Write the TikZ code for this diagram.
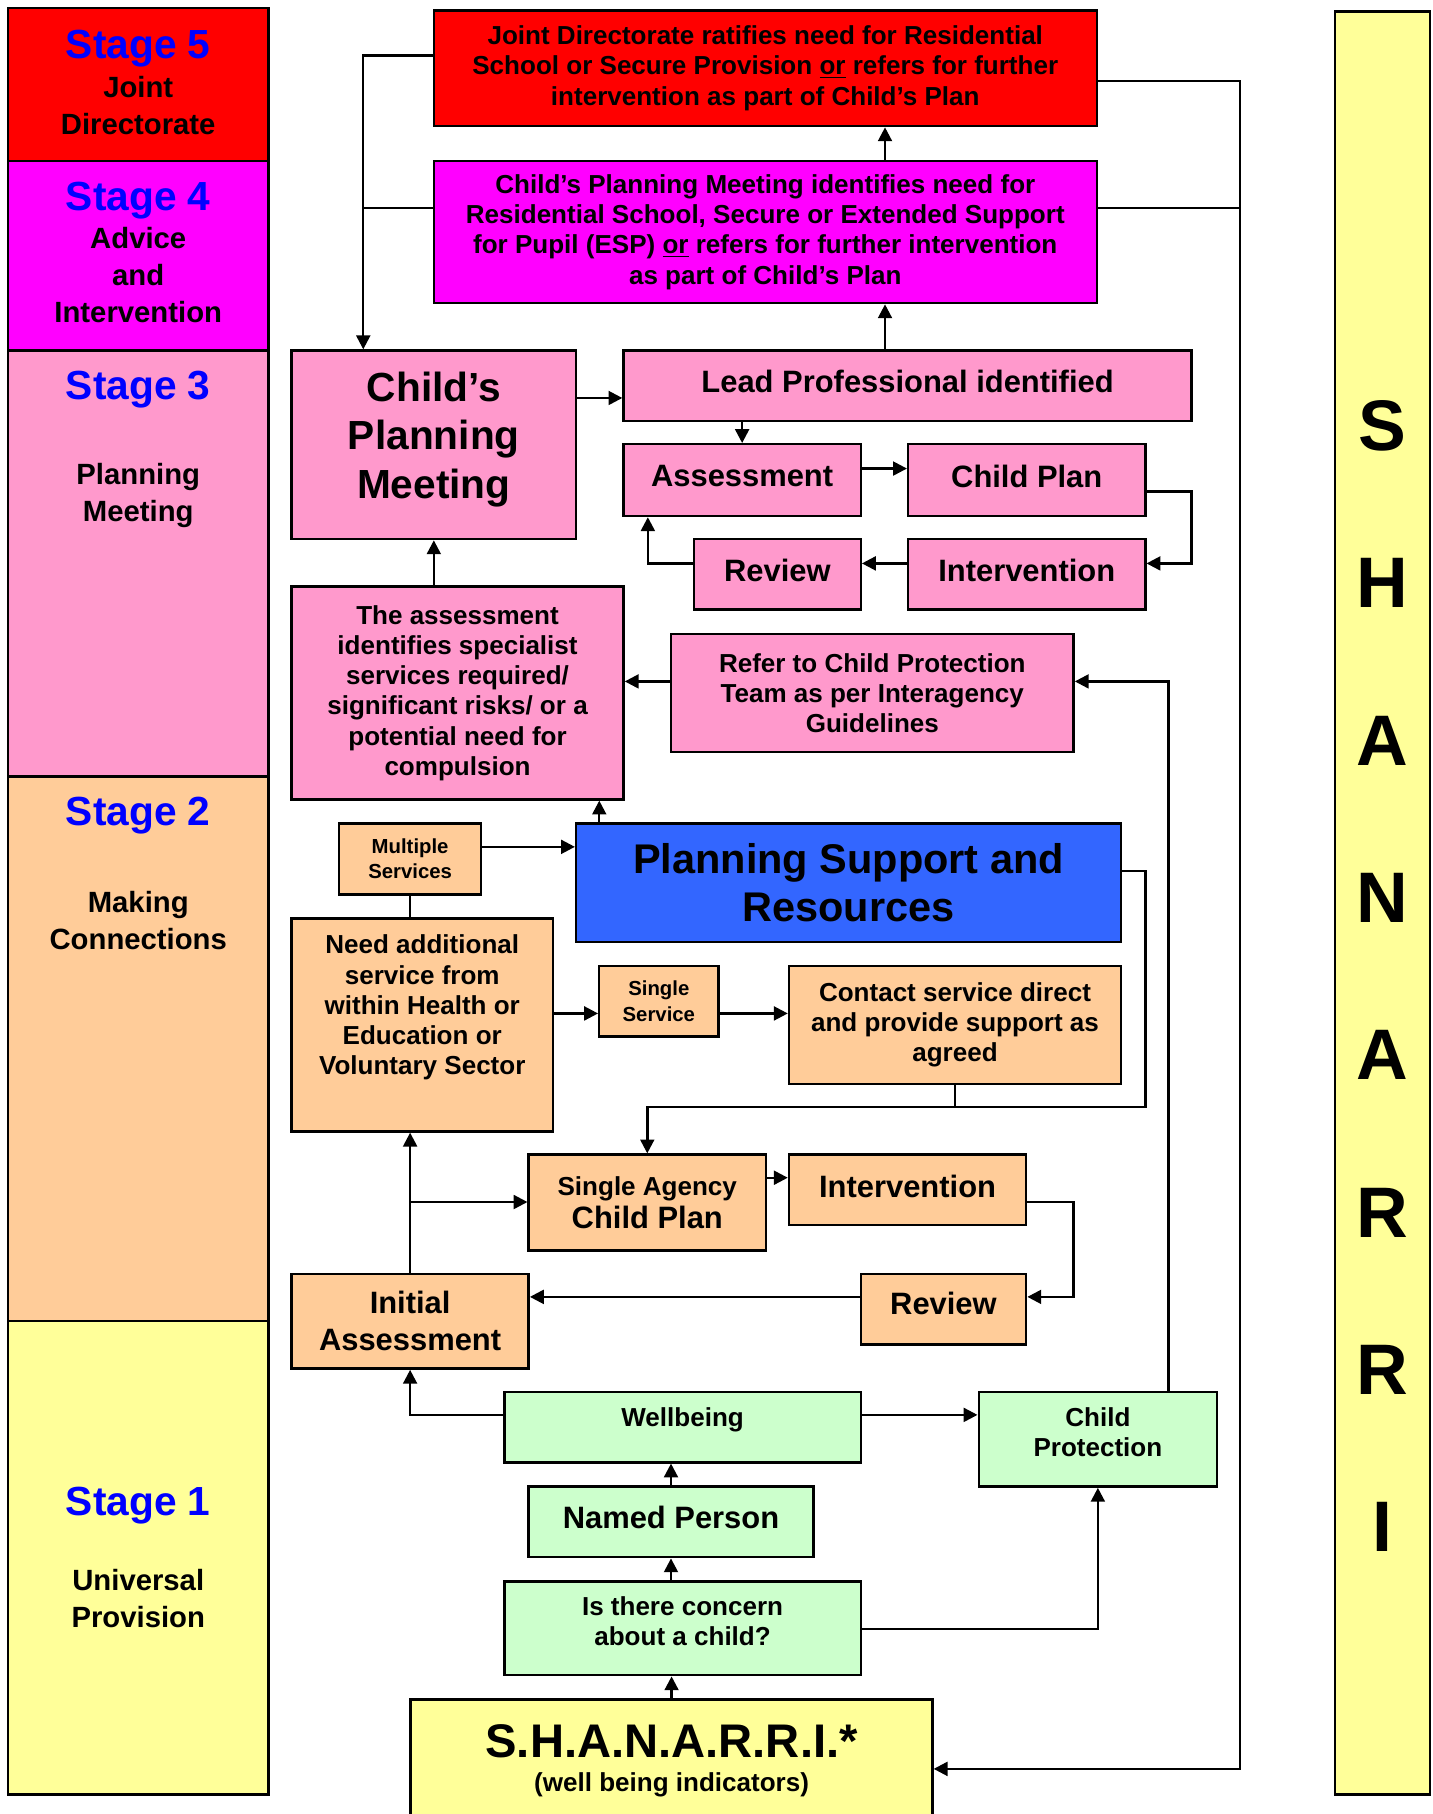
\documentclass[tikz,border=0pt]{standalone}
\usepackage{fontspec}
\setmainfont{Liberation Sans}
\usetikzlibrary{arrows.meta}

\definecolor{redc}{HTML}{FF0000}
\definecolor{magc}{HTML}{FF00FF}
\definecolor{pinkc}{HTML}{FF99CC}
\definecolor{peachc}{HTML}{FFCC99}
\definecolor{yelc}{HTML}{FFFF99}
\definecolor{greenc}{HTML}{CCFFCC}
\definecolor{bluec}{HTML}{3366FF}
\definecolor{stagec}{HTML}{0000FF}

\newcommand\fsmall{\fontsize{12.5}{15.6}\selectfont\bfseries}
\newcommand\fmid{\fontsize{16}{18.6}\selectfont\bfseries}
\newcommand\flab{\fontsize{19}{22.8}\selectfont\bfseries}
\newcommand\fbig{\fontsize{25.5}{29.5}\selectfont\bfseries}

\tikzset{
  box/.style={draw, line width=1.5pt, inner sep=0pt, align=center},
  wh/.style 2 args={minimum width=#1*0.025cm, minimum height=#2*0.025cm},
  arr/.style={-{Triangle[length=8.5pt,width=8.5pt]}, line width=1.5pt},
  con/.style={line width=1.5pt},
  stg/.style={font=\fontsize{25}{28}\selectfont\bfseries, text=stagec, inner sep=0pt},
  sub/.style={font=\fontsize{18}{22.8}\selectfont\bfseries, align=center, inner sep=0pt},
}

\begin{document}
\begin{tikzpicture}[x=0.025cm, y=-0.025cm]
  \useasboundingbox (0,0) rectangle (1238,1568);

  % stage column
  \node[box, wh={225}{132}, fill=redc] (st5) at (119.5,73) {};
  \node[box, wh={225}{164}, fill=magc] (st4) at (119.5,221) {};
  \node[box, wh={225}{368}, fill=pinkc] (st3) at (119.5,487) {};
  \node[box, wh={225}{471}, fill=peachc] (st2) at (119.5,906.5) {};
  \node[box, wh={225}{409}, fill=yelc] (st1) at (119.5,1346.5) {};
  \node[stg] (s5) at (119.5,42) {Stage 5};
  \node[sub] (s5t) at (119.5,91) {Joint\\Directorate};
  \node[stg] (s4) at (119.5,173) {Stage 4};
  \node[sub] (s4t) at (119.5,238) {Advice\\and\\Intervention};
  \node[stg] (s3) at (119.5,337) {Stage 3};
  \node[sub] (s3t) at (119.5,428) {Planning\\Meeting};
  \node[stg] (s2) at (119.5,705) {Stage 2};
  \node[sub] (s2t) at (119.5,796) {Making\\Connections};
  \node[stg] (s1) at (119.5,1301) {Stage 1};
  \node[sub] (s1t) at (119.5,1382) {Universal\\Provision};

  % shanarri column
  \node[box, wh={82}{1541}, fill=yelc] (col) at (1195,780.5) {};
  \foreach \l [count=\i] in {S,H,A,N,A,R,R,I}
    \node[font=\fontsize{44}{44}\selectfont\bfseries, inner sep=0pt] (let\i) at (1195,{368+136*(\i-1)}) {\l};

  % stages 5 and 4
  \node[box, wh={573}{100}, fill=redc, font=\fmid] (jd) at (661.5,59)
    {Joint Directorate ratifies need for Residential\\School or Secure Provision \underline{or} refers for further\\intervention as part of Child’s Plan};
  \node[box, wh={573}{123}, fill=magc, font=\fmid] (cpm4) at (661.5,200.5)
    {Child’s Planning Meeting identifies need for\\Residential School, Secure or Extended Support\\for Pupil (ESP) \underline{or} refers for further intervention\\as part of Child’s Plan};

  % stage 3
  \node[box, wh={246}{163}, fill=pinkc, font=\fontsize{25}{30}\selectfont\bfseries] (cpm) at (375,384.5) {Child’s\\Planning\\Meeting\\[-18pt]};
  \node[box, wh={491}{61}, fill=pinkc, font=\flab, text depth=6pt] (lp) at (784.5,333.5) {Lead Professional identified};
  \node[box, wh={205}{62}, fill=pinkc, font=\flab, text depth=5pt] (asm) at (641.5,415) {Assessment};
  \node[box, wh={205}{62}, fill=pinkc, font=\flab, text depth=5pt] (cp) at (887.5,415) {Child Plan};
  \node[box, wh={144}{61}, fill=pinkc, font=\flab, text depth=5pt] (rev3) at (672,496.5) {Review};
  \node[box, wh={205}{61}, fill=pinkc, font=\flab, text depth=5pt] (int3) at (887.5,496.5) {Intervention};
  \node[box, wh={287}{184}, fill=pinkc, font=\fmid] (ais) at (395.5,599)
    {The assessment\\identifies specialist\\services required/\\significant risks/ or a\\potential need for\\compulsion};
  \node[box, wh={348}{102}, fill=pinkc, font=\fmid] (ref) at (754,599)
    {Refer to Child Protection\\Team as per Interagency\\Guidelines};

  % stage 2
  \node[box, wh={123}{61}, fill=peachc, font=\fsmall] (ms) at (354.5,742.5) {Multiple\\Services};
  \node[box, wh={471}{102}, fill=bluec, font=\fbig] (psr) at (733.5,763) {Planning Support and\\Resources};
  \node[box, wh={226}{184}, fill=peachc, font=\fmid] (need) at (365,886)
    {Need additional\\service from\\within Health or\\Education or\\Voluntary Sector\\[6pt]};
  \node[box, wh={103}{61}, fill=peachc, font=\fsmall] (ss) at (569.5,865.5) {Single\\Service};
  \node[box, wh={287}{102}, fill=peachc, font=\fmid] (csd) at (825.5,886)
    {Contact service direct\\and provide support as\\agreed};
  \node[box, wh={205}{83}, fill=peachc, font=\fmid] (sacp) at (559.5,1039.5)
    {Single Agency\\[2pt]{\flab Child Plan}};
  \node[box, wh={205}{61}, fill=peachc, font=\flab, text depth=5pt] (int2) at (784.5,1028.5) {Intervention};
  \node[box, wh={205}{82}, fill=peachc, font=\flab] (ia) at (354.5,1142) {Initial\\Assessment};
  \node[box, wh={143}{61}, fill=peachc, font=\flab, text depth=7pt] (rev2) at (815.5,1131.5) {Review};

  % stage 1
  \node[box, wh={308}{61}, fill=greenc, font=\fmid, text depth=12pt] (wb) at (590,1233.5) {Wellbeing};
  \node[box, wh={206}{82}, fill=greenc, font=\fmid] (chp) at (949,1244) {Child\\Protection\\[-10pt]};
  \node[box, wh={246}{61}, fill=greenc, font=\flab, text depth=6pt] (np) at (580,1315.5) {Named Person};
  \node[box, wh={308}{81}, fill=greenc, font=\fmid] (conc) at (590,1407.5) {Is there concern\\about a child?\\[-10pt]};
  \node[box, wh={451}{106}, fill=yelc, font=\fmid] (shan) at (580.5,1522)
    {{\fontsize{29}{32}\selectfont\bfseries S.H.A.N.A.R.R.I.*}\\[2pt](well being indicators)};

  % guide lines
  \coordinate (xl) at (314,0);
  \coordinate (xr) at (1072,0);
  \coordinate (xm) at (765,0);
  \coordinate (xcr) at (1030,0);
  \coordinate (xrv) at (560,0);
  \coordinate (xcp) at (1010,0);
  \coordinate (xpa) at (518,0);
  \coordinate (xpr) at (990,0);
  \coordinate (xu) at (928,0);
  \coordinate (yjd) at (0,48);
  \coordinate (yjr) at (0,70);
  \coordinate (ycl) at (0,180);
  \coordinate (ylp) at (0,344);
  \coordinate (ya) at (0,405);
  \coordinate (yc) at (0,425);
  \coordinate (yi) at (0,487);
  \coordinate (yref) at (0,589);
  \coordinate (ym) at (0,732);
  \coordinate (yp) at (0,753);
  \coordinate (ys) at (0,876);
  \coordinate (yj) at (0,957);
  \coordinate (yt) at (0,1018);
  \coordinate (yu) at (0,1039);
  \coordinate (yv) at (0,1121);
  \coordinate (yw) at (0,1223);
  \coordinate (ycc) at (0,1408);
  \coordinate (ybot) at (0,1529);

  % connectors
  \draw[arr] (jd.west |- yjd) -| (xl |- cpm.north);
  \draw[con] (cpm4.west |- ycl) -- (xl |- ycl);
  \draw[arr] (jd.east |- yjr) -| (xr |- ybot) -- (shan.east |- ybot);
  \draw[con] (cpm4.east |- ycl) -- (xr |- ycl);
  \draw[arr] (xm |- cpm4.north) -- (xm |- jd.south);
  \draw[arr] (xm |- lp.north) -- (xm |- cpm4.south);
  \draw[arr] (cpm.east |- ylp) -- (lp.west |- ylp);
  \draw[arr] (lp.south -| asm.north) -- (asm.north);
  \draw[arr] (asm.east |- ya) -- (cp.west |- ya);
  \draw[arr] (cp.east |- yc) -| (xcr |- yi) -- (int3.east |- yi);
  \draw[arr] (int3.west |- yi) -- (rev3.east |- yi);
  \draw[arr] (rev3.west |- yi) -| (xrv |- asm.south);
  \draw[arr] (ais.north -| cpm.south) -- (cpm.south);
  \draw[arr] (ref.west |- yref) -- (ais.east |- yref);
  \draw[arr] (xcp |- chp.north) -- (xcp |- yref) -- (ref.east |- yref);
  \draw[arr] (xpa |- psr.north) -- (xpa |- ais.south);
  \draw[arr] (ms.east |- ym) -- (psr.west |- ym);
  \draw[con] (ms.south) -- (need.north -| ms.south);
  \draw[arr] (need.east |- ys) -- (ss.west |- ys);
  \draw[arr] (ss.east |- ys) -- (csd.west |- ys);
  \draw[arr] (psr.east |- yp) -| (xpr |- yj) -| (sacp.north);
  \draw[con] (csd.south) -- (csd.south |- yj);
  \draw[arr] (sacp.east |- yt) -- (int2.west |- yt);
  \draw[arr] (int2.east |- yu) -| (xu |- yv) -- (rev2.east |- yv);
  \draw[arr] (rev2.west |- yv) -- (ia.east |- yv);
  \draw[arr] (ia.north) -- (need.south -| ia.north);
  \draw[arr] (ia.north |- yu) -- (sacp.west |- yu);
  \draw[arr] (wb.west |- yw) -| (ia.south);
  \draw[arr] (wb.east |- yw) -- (chp.west |- yw);
  \draw[arr] (np.north) -- (np.north |- wb.south);
  \draw[arr] (conc.north -| np.south) -- (np.south);
  \draw[arr] (conc.east |- ycc) -| (chp.south);
  \draw[arr] (shan.north) -- (shan.north |- conc.south);
\end{tikzpicture}
\end{document}
